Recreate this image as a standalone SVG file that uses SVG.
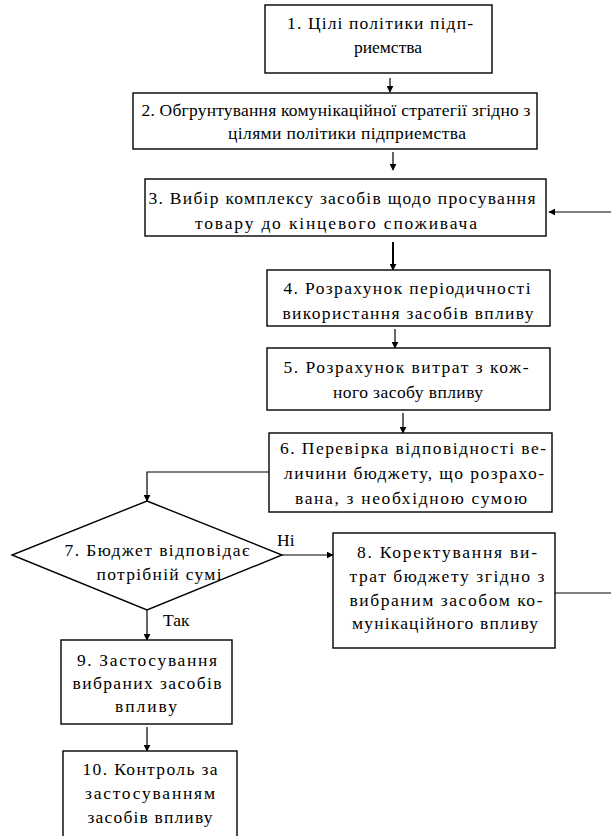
<svg xmlns="http://www.w3.org/2000/svg" width="611" height="836" viewBox="0 0 611 836">
  <style>
    .box { fill: #fff; stroke: #000; stroke-width: 1.4; }
    .lbl { font-family: 'Liberation Serif', 'DejaVu Serif', 'Times New Roman', serif; font-size: 17.5px; fill: #000; text-anchor: middle; }
    .tag { font-family: 'Liberation Serif', 'DejaVu Serif', 'Times New Roman', serif; font-size: 17.5px; fill: #000; }
    .con { fill: none; stroke: #000; stroke-width: 1.2; }
    .thick { stroke-width: 2; }
  </style>
  <defs>
    <marker id="arrow" viewBox="0 0 10 10" refX="9" refY="5" markerWidth="7" markerHeight="7" markerUnits="userSpaceOnUse" orient="auto">
      <path d="M0,0 L10,5 L0,10 Z" fill="#000"/>
    </marker>
  </defs>
  <rect width="611" height="836" fill="#fff"/>

  <!-- flow connectors -->
  <g id="connectors">
    <line class="con" x1="390" y1="78" x2="390" y2="92" marker-end="url(#arrow)"/>
    <line class="con" x1="393" y1="152" x2="393" y2="170" marker-end="url(#arrow)"/>
    <line class="con thick" x1="393" y1="242" x2="393" y2="270" marker-end="url(#arrow)"/>
    <line class="con" x1="395" y1="329" x2="395" y2="348" marker-end="url(#arrow)"/>
    <line class="con" x1="403" y1="413" x2="403" y2="433" marker-end="url(#arrow)"/>
    <polyline class="con" points="269,472 147,472 147,501" marker-end="url(#arrow)"/>
    <line class="con" x1="282" y1="555" x2="333" y2="555" marker-end="url(#arrow)"/>
    <line class="con" x1="147" y1="610" x2="147" y2="640" marker-end="url(#arrow)"/>
    <line class="con" x1="147" y1="727" x2="147" y2="751" marker-end="url(#arrow)"/>
    <!-- loop back from step 8 to step 3 (vertical run lies past the right edge) -->
    <polyline class="con" points="555,593 614,593 614,212 549,212" marker-end="url(#arrow)"/>
  </g>

  <g id="node1">
    <rect class="box" x="265" y="5" width="227" height="68"/>
    <text class="lbl" x="380" y="29" textLength="186" lengthAdjust="spacing">1. Цілі політики підп-</text>
    <text class="lbl" x="388" y="53">риемства</text>
  </g>

  <g id="node2">
    <rect class="box" x="133" y="93" width="404" height="56"/>
    <text class="lbl" x="336" y="116" textLength="389" lengthAdjust="spacing">2. Обгрунтування комунікаційної стратегії згідно з</text>
    <text class="lbl" x="347" y="139" textLength="238" lengthAdjust="spacing">цілями політики підприемства</text>
  </g>

  <g id="node3">
    <rect class="box" x="145" y="179" width="401" height="57"/>
    <text class="lbl" x="342" y="204" textLength="387" lengthAdjust="spacing">3. Вибір комплексу засобів щодо просування</text>
    <text class="lbl" x="336" y="229" textLength="282" lengthAdjust="spacing">товару до кінцевого споживача</text>
  </g>

  <g id="node4">
    <rect class="box" x="267" y="270" width="283" height="56"/>
    <text class="lbl" x="407" y="294" textLength="247" lengthAdjust="spacing">4. Розрахунок періодичності</text>
    <text class="lbl" x="408" y="319" textLength="251" lengthAdjust="spacing">використання засобів впливу</text>
  </g>

  <g id="node5">
    <rect class="box" x="267" y="348" width="283" height="62"/>
    <text class="lbl" x="406" y="373" textLength="245" lengthAdjust="spacing">5. Розрахунок витрат з кож-</text>
    <text class="lbl" x="408" y="398" textLength="150" lengthAdjust="spacing">ного засобу впливу</text>
  </g>

  <g id="node6">
    <rect class="box" x="269" y="433" width="283" height="79"/>
    <text class="lbl" x="413" y="454" textLength="266" lengthAdjust="spacing">6. Перевірка відповідності ве-</text>
    <text class="lbl" x="414" y="479" textLength="260" lengthAdjust="spacing">личини бюджету, що розрахо-</text>
    <text class="lbl" x="411" y="504" textLength="232" lengthAdjust="spacing">вана, з необхідною сумою</text>
  </g>

  <g id="node7">
    <polygon class="box" points="147,501 282,555 147,610 12,555"/>
    <text class="lbl" x="157" y="556" textLength="185" lengthAdjust="spacing">7. Бюджет відповідає</text>
    <text class="lbl" x="159" y="580" textLength="125" lengthAdjust="spacing">потрібній сумі</text>
    <text class="tag" x="277" y="546">Ні</text>
    <text class="tag" x="163" y="626">Так</text>
  </g>

  <g id="node8">
    <rect class="box" x="333" y="533" width="222" height="115"/>
    <text class="lbl" x="447" y="558" textLength="180" lengthAdjust="spacing">8. Коректування ви-</text>
    <text class="lbl" x="447" y="582" textLength="195" lengthAdjust="spacing">трат бюджету згідно з</text>
    <text class="lbl" x="446" y="606" textLength="193" lengthAdjust="spacing">вибраним засобом ко-</text>
    <text class="lbl" x="445" y="629" textLength="186" lengthAdjust="spacing">мунікаційного впливу</text>
  </g>

  <g id="node9">
    <rect class="box" x="61" y="640" width="171" height="84"/>
    <text class="lbl" x="147" y="666" textLength="140" lengthAdjust="spacing">9. Застосування</text>
    <text class="lbl" x="147" y="689" textLength="149" lengthAdjust="spacing">вибраних засобів</text>
    <text class="lbl" x="146" y="712" textLength="62" lengthAdjust="spacing">впливу</text>
  </g>

  <g id="node10">
    <rect class="box" x="63" y="751" width="174" height="95"/>
    <text class="lbl" x="150" y="775" textLength="135" lengthAdjust="spacing">10. Контроль за</text>
    <text class="lbl" x="150" y="799" textLength="130" lengthAdjust="spacing">застосуванням</text>
    <text class="lbl" x="150" y="823" textLength="125" lengthAdjust="spacing">засобів впливу</text>
  </g>
</svg>
